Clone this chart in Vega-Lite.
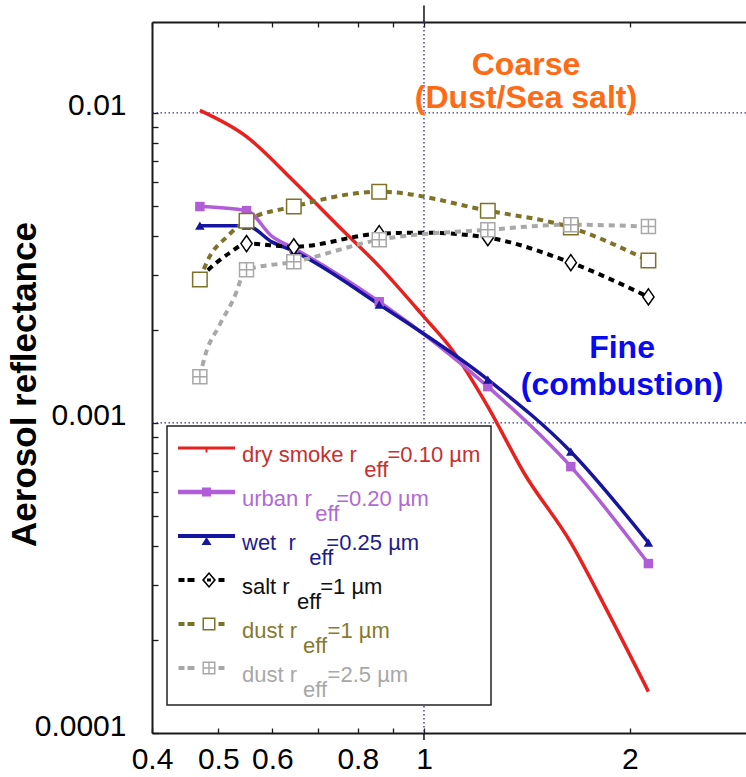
{
  "$schema": "https://vega.github.io/schema/vega-lite/v6.json",
  "width": 594,
  "height": 711,
  "autosize": {"type": "none"},
  "padding": {"left": 152, "top": 22, "right": 0, "bottom": 44},
  "background": "white",
  "config": {
    "view": {"stroke": null},
    "axis": {"labelFont": "Liberation Sans", "labelFontSize": 30, "labelColor": "#000", "domainColor": "#1a1a1a", "domainWidth": 2, "tickColor": "#1a1a1a", "tickWidth": 1.3, "grid": false, "titleColor": "#000", "labelFlush": false, "labelOverlap": false, "labelBound": false}
  },
  "datasets": {
    "curves": [
      {"series": "dry smoke", "x": 0.47, "y": 0.01019},
      {"series": "dry smoke", "x": 0.55, "y": 0.00839},
      {"series": "dry smoke", "x": 0.645, "y": 0.00602},
      {"series": "dry smoke", "x": 0.75, "y": 0.00431},
      {"series": "dry smoke", "x": 0.86, "y": 0.0032},
      {"series": "dry smoke", "x": 1.0, "y": 0.0022},
      {"series": "dry smoke", "x": 1.1, "y": 0.00172},
      {"series": "dry smoke", "x": 1.24, "y": 0.00113},
      {"series": "dry smoke", "x": 1.4, "y": 0.000691},
      {"series": "dry smoke", "x": 1.64, "y": 0.000411},
      {"series": "dry smoke", "x": 1.85, "y": 0.00025},
      {"series": "dry smoke", "x": 2.13, "y": 0.000136},
      {"series": "urban", "x": 0.47, "y": 0.00499},
      {"series": "urban", "x": 0.55, "y": 0.00484},
      {"series": "urban", "x": 0.6, "y": 0.00399},
      {"series": "urban", "x": 0.645, "y": 0.00366},
      {"series": "urban", "x": 0.86, "y": 0.00246},
      {"series": "urban", "x": 1.24, "y": 0.00131},
      {"series": "urban", "x": 1.64, "y": 0.000723},
      {"series": "urban", "x": 2.13, "y": 0.000352},
      {"series": "wet", "x": 0.47, "y": 0.00433},
      {"series": "wet", "x": 0.55, "y": 0.00433},
      {"series": "wet", "x": 0.6, "y": 0.00383},
      {"series": "wet", "x": 0.645, "y": 0.00358},
      {"series": "wet", "x": 0.86, "y": 0.00241},
      {"series": "wet", "x": 1.24, "y": 0.00138},
      {"series": "wet", "x": 1.64, "y": 0.000808},
      {"series": "wet", "x": 2.13, "y": 0.000411},
      {"series": "salt", "x": 0.47, "y": 0.00294},
      {"series": "salt", "x": 0.497, "y": 0.00329},
      {"series": "salt", "x": 0.52, "y": 0.00354},
      {"series": "salt", "x": 0.55, "y": 0.00379},
      {"series": "salt", "x": 0.645, "y": 0.0037},
      {"series": "salt", "x": 0.86, "y": 0.00408},
      {"series": "salt", "x": 1.0, "y": 0.00411},
      {"series": "salt", "x": 1.24, "y": 0.00396},
      {"series": "salt", "x": 1.64, "y": 0.00329},
      {"series": "salt", "x": 2.13, "y": 0.00255},
      {"series": "dust 1", "x": 0.47, "y": 0.0029},
      {"series": "dust 1", "x": 0.483, "y": 0.00336},
      {"series": "dust 1", "x": 0.515, "y": 0.00399},
      {"series": "dust 1", "x": 0.55, "y": 0.00449},
      {"series": "dust 1", "x": 0.645, "y": 0.00499},
      {"series": "dust 1", "x": 0.86, "y": 0.00557},
      {"series": "dust 1", "x": 1.24, "y": 0.00484},
      {"series": "dust 1", "x": 1.64, "y": 0.00427},
      {"series": "dust 1", "x": 2.13, "y": 0.00334},
      {"series": "dust 2.5", "x": 0.47, "y": 0.00141},
      {"series": "dust 2.5", "x": 0.478, "y": 0.00164},
      {"series": "dust 2.5", "x": 0.501, "y": 0.00205},
      {"series": "dust 2.5", "x": 0.526, "y": 0.0025},
      {"series": "dust 2.5", "x": 0.55, "y": 0.00312},
      {"series": "dust 2.5", "x": 0.645, "y": 0.00331},
      {"series": "dust 2.5", "x": 0.86, "y": 0.0039},
      {"series": "dust 2.5", "x": 1.24, "y": 0.0042},
      {"series": "dust 2.5", "x": 1.64, "y": 0.00436},
      {"series": "dust 2.5", "x": 2.13, "y": 0.0043}
    ],
    "grid_h": [{"y": 0.01}, {"y": 0.001}],
    "grid_v": [{"x": 1}],
    "ext": [{"x": 1, "y": 0.01965, "y2": 0.0222}, {"x": 1, "y": 0.000095, "y2": 0.0001}],
    "ann_coarse": [{"x": 1.41, "y": 0.01329, "text": "Coarse"}, {"x": 1.41, "y": 0.0104, "text": "(Dust/Sea salt)"}],
    "ann_fine": [{"x": 1.949, "y": 0.001625, "text": "Fine"}, {"x": 1.949, "y": 0.001234, "text": "(combustion)"}]
  },
  "layer": [
    {
      "data": {"name": "grid_h"},
      "mark": {"type": "rule", "color": "#303090", "strokeWidth": 1.3, "strokeDash": [1.5, 2.5]},
      "encoding": {
        "y": {"field": "y", "type": "quantitative",
          "scale": {"type": "log", "domain": [0.0001, 0.01965], "nice": false},
          "axis": {
            "values": [0.0001, 0.0002, 0.0003, 0.0004, 0.0005, 0.0006, 0.0007, 0.0008, 0.0009, 0.001, 0.002, 0.003, 0.004, 0.005, 0.006, 0.007, 0.008, 0.009, 0.01],
            "labelExpr": "datum.value == 0.01 ? '0.01' : datum.value == 0.001 ? '0.001' : datum.value == 0.0001 ? '0.0001' : ''",
            "tickSize": -6, "labelPadding": 32, "labelOffset": -7,
            "title": "Aerosol reflectance", "titleFont": "Liberation Sans", "titleFontSize": 35, "titleFontWeight": "bold",
            "titleX": -117, "titleY": 362, "titleAngle": -90, "titleAlign": "center", "titleBaseline": "alphabetic"
          }
        }
      }
    },
    {
      "data": {"name": "grid_v"},
      "mark": {"type": "rule", "color": "#303090", "strokeWidth": 1.3, "strokeDash": [1.5, 2.5]},
      "encoding": {
        "x": {"field": "x", "type": "quantitative",
          "scale": {"type": "log", "domain": [0.4, 2.959], "nice": false},
          "axis": {"orient": "bottom", "values": [0.4, 0.5, 0.6, 0.7, 0.8, 0.9, 1, 2],
            "labelExpr": "datum.value == 0.7 || datum.value == 0.9 ? '' : format(datum.value, '')",
            "tickSize": -5, "labelPadding": 16, "title": null}
        }
      }
    },
    {
      "data": {"name": "ext"},
      "mark": {"type": "rule", "color": "#111", "strokeWidth": 1.5},
      "encoding": {
        "x": {"field": "x", "type": "quantitative",
          "scale": {"type": "log", "domain": [0.4, 2.959], "nice": false},
          "axis": {"orient": "top", "values": [0.4, 0.5, 0.6, 0.7, 0.8, 0.9, 1, 2], "labels": false, "tickSize": -5, "title": null}
        },
        "y": {"field": "y", "type": "quantitative", "scale": {"type": "log", "domain": [0.0001, 0.01965], "nice": false}, "axis": null},
        "y2": {"field": "y2"}
      }
    },
    {
      "data": {"name": "curves"},
      "transform": [{"filter": "datum.x == 0.47 && datum.series == 'dry smoke'"}],
      "mark": {"type": "point", "size": 0, "opacity": 0},
      "encoding": {
        "x": {"field": "x", "type": "quantitative", "scale": {"type": "log", "domain": [0.4, 2.959], "nice": false}, "axis": null},
        "y": {"field": "y", "type": "quantitative", "scale": {"type": "log", "domain": [0.0001, 0.01965], "nice": false}, "axis": null},
        "fill": {"field": "series", "type": "nominal",
          "legend": {
            "orient": "none", "legendX": 15, "legendY": 404, "title": null,
            "padding": 11, "strokeColor": "#222", "fillColor": "white",
            "symbolType": "M0,0H302V257H0Z", "symbolSize": 4, "symbolFillColor": "transparent", "symbolStrokeColor": "transparent", "symbolStrokeWidth": 0, "symbolOpacity": 0,
            "labelExpr": "''", "labelFontSize": 1,
            "encode": {
              "symbols": {"update": {"x": {"value": 0}, "y": {"value": 0}, "opacity": {"value": 0}}},
              "legend": {"update": {"strokeWidth": {"value": 1.5}}}
            }
          }
        }
      }
    },
    {
      "data": {"name": "curves"},
      "transform": [{"filter": "datum.x == 0.47"}],
      "mark": {"type": "point", "filled": true, "opacity": 0, "size": 4},
      "encoding": {
        "x": {"field": "x", "type": "quantitative", "scale": {"type": "log", "domain": [0.4, 2.959], "nice": false}, "axis": null},
        "y": {"field": "y", "type": "quantitative", "scale": {"type": "log", "domain": [0.0001, 0.01965], "nice": false}, "axis": null},
        "color": {"field": "series", "type": "nominal",
          "scale": {"domain": ["dry smoke", "urban", "wet", "salt", "dust 1", "dust 2.5"], "range": ["#e8201e", "#b05ed8", "#1515a0", "#000000", "#7d7228", "#a8a8a8"]},
          "legend": {
            "orient": "none", "legendX": 15, "legendY": 404, "title": null,
            "padding": 11,
            "symbolSize": 4, "symbolStrokeWidth": 0, "symbolOpacity": 1, "rowPadding": 0,
            "labelFont": "Liberation Sans", "labelFontSize": 22, "labelLimit": 0, "labelOffset": 42,
            "labelExpr": "datum.label == 'dry smoke' ? ['dry smoke r' + pad('',5,'\u00a0') + '=0.10 µm', '\u200b' + pad('',20,'\u00a0') + 'eff'] : datum.label == 'urban' ? ['urban r' + pad('',4,'\u00a0') + '=0.20 µm', '\u200b' + pad('',12,'\u00a0') + 'eff'] : datum.label == 'wet' ? ['wet' + pad('',2,'\u00a0') + 'r' + pad('',5,'\u00a0') + '=0.25 µm', '\u200b' + pad('',11,'\u00a0') + 'eff'] : datum.label == 'salt' ? ['salt r' + pad('',5,'\u00a0') + '=1 µm', '\u200b' + pad('',9,'\u00a0') + 'eff'] : datum.label == 'dust 1' ? ['dust r' + pad('',5,'\u00a0') + '=1 µm', '\u200b' + pad('',10,'\u00a0') + 'eff'] : ['dust r' + pad('',5,'\u00a0') + '=2.5 µm', '\u200b' + pad('',10,'\u00a0') + 'eff']",
            "encode": {
              "symbols": {"update": {"x": {"value": 28.5}}},
              "labels": {"update": {
                "fill": {"signal": "datum.value == 'dry smoke' ? '#c83030' : datum.value == 'urban' ? '#b06ad6' : datum.value == 'wet' ? '#1c1c8e' : datum.value == 'salt' ? '#111111' : datum.value == 'dust 1' ? '#857a2e' : '#a8a8a8'"},
                "dy": {"value": 7},
                "lineHeight": {"value": 15},
                "x": {"value": 64}
              }}
            }
          }
        },
        "shape": {"field": "series", "type": "nominal",
          "scale": {"domain": ["dry smoke", "urban", "wet", "salt", "dust 1", "dust 2.5"],
            "range": [
              "M-28.5,-1.5H28.5V1.5H-28.5Z M-1,1.5H1V4.5H-1Z",
              "M-28.5,-2.2H28.5V2.2H-28.5Z M-4.5,-4.5H4.5V4.5H-4.5Z",
              "M-28.5,-2H28.5V2H-28.5Z M0,1L5,9H-5Z",
              "M-28,-2H-22V2H-28Z M-19,-2H-12V2H-19Z M2.5,-8L9.5,0L2.5,8L-4.5,0Z M2.5,-5.8L-2.3,0L2.5,5.8L7.3,0Z M0.5,-1.5H4.5V1.5H0.5Z M12,-2H18V2H12Z",
              "M-28,-2H-22V2H-28Z M-19,-2H-12V2H-19Z M-4,-6.5H9V6.5H-4Z M-2.5,-5V5H7.5V-5Z M12,-2H18V2H12Z",
              "M-28,-2H-22V2H-28Z M-19,-2H-12V2H-19Z M-4,-6.5H9V6.5H-4Z M-2.5,-5V5H7.5V-5Z M1.8,-5H3.2V5H1.8Z M-2.5,-0.7H7.5V0.7H-2.5Z M12,-2H18V2H12Z"
            ]}
        }
      }
    },
    {
      "data": {"name": "curves"},
      "transform": [{"filter": {"field": "series", "oneOf": ["dry smoke", "urban", "wet"]}}],
      "mark": {"type": "line", "strokeWidth": 3.5, "interpolate": "monotone"},
      "encoding": {
        "x": {"field": "x", "type": "quantitative", "scale": {"type": "log", "domain": [0.4, 2.959], "nice": false}, "axis": null},
        "y": {"field": "y", "type": "quantitative", "scale": {"type": "log", "domain": [0.0001, 0.01965], "nice": false}, "axis": null},
        "color": {"field": "series", "type": "nominal", "legend": null}
      }
    },
    {
      "data": {"name": "curves"},
      "transform": [{"filter": {"field": "series", "oneOf": ["salt", "dust 1", "dust 2.5"]}}],
      "mark": {"type": "line", "strokeWidth": 4, "strokeDash": [6, 5], "interpolate": "monotone"},
      "encoding": {
        "x": {"field": "x", "type": "quantitative", "scale": {"type": "log", "domain": [0.4, 2.959], "nice": false}, "axis": null},
        "y": {"field": "y", "type": "quantitative", "scale": {"type": "log", "domain": [0.0001, 0.01965], "nice": false}, "axis": null},
        "color": {"field": "series", "type": "nominal", "legend": null}
      }
    },
    {
      "data": {"name": "curves"},
      "transform": [
        {"filter": {"field": "series", "equal": "urban"}},
        {"filter": {"field": "x", "oneOf": [0.47, 0.55, 0.645, 0.86, 1.24, 1.64, 2.13]}}
      ],
      "mark": {"type": "point", "shape": "square", "filled": true, "size": 90, "opacity": 1},
      "encoding": {
        "x": {"field": "x", "type": "quantitative", "scale": {"type": "log", "domain": [0.4, 2.959], "nice": false}, "axis": null},
        "y": {"field": "y", "type": "quantitative", "scale": {"type": "log", "domain": [0.0001, 0.01965], "nice": false}, "axis": null},
        "color": {"field": "series", "type": "nominal", "legend": null}
      }
    },
    {
      "data": {"name": "curves"},
      "transform": [
        {"filter": {"field": "series", "equal": "wet"}},
        {"filter": {"field": "x", "oneOf": [0.47, 0.55, 0.645, 0.86, 1.24, 1.64, 2.13]}}
      ],
      "mark": {"type": "point", "shape": "triangle-up", "filled": true, "size": 90, "opacity": 1},
      "encoding": {
        "x": {"field": "x", "type": "quantitative", "scale": {"type": "log", "domain": [0.4, 2.959], "nice": false}, "axis": null},
        "y": {"field": "y", "type": "quantitative", "scale": {"type": "log", "domain": [0.0001, 0.01965], "nice": false}, "axis": null},
        "color": {"field": "series", "type": "nominal", "legend": null}
      }
    },
    {
      "data": {"name": "curves"},
      "transform": [
        {"filter": {"field": "series", "equal": "salt"}},
        {"filter": {"field": "x", "oneOf": [0.55, 0.645, 0.86, 1.24, 1.64, 2.13]}}
      ],
      "mark": {"type": "point", "shape": "M0,-1.15L0.8,0L0,1.15L-0.8,0Z", "filled": false, "fill": "white", "size": 196, "strokeWidth": 1.5, "opacity": 1},
      "encoding": {
        "x": {"field": "x", "type": "quantitative", "scale": {"type": "log", "domain": [0.4, 2.959], "nice": false}, "axis": null},
        "y": {"field": "y", "type": "quantitative", "scale": {"type": "log", "domain": [0.0001, 0.01965], "nice": false}, "axis": null},
        "color": {"field": "series", "type": "nominal", "legend": null}
      }
    },
    {
      "data": {"name": "curves"},
      "transform": [
        {"filter": {"field": "series", "equal": "dust 1"}},
        {"filter": {"field": "x", "oneOf": [0.47, 0.55, 0.645, 0.86, 1.24, 1.64, 2.13]}}
      ],
      "mark": {"type": "point", "shape": "square", "filled": false, "fill": "white", "size": 210, "strokeWidth": 1.5, "opacity": 1},
      "encoding": {
        "x": {"field": "x", "type": "quantitative", "scale": {"type": "log", "domain": [0.4, 2.959], "nice": false}, "axis": null},
        "y": {"field": "y", "type": "quantitative", "scale": {"type": "log", "domain": [0.0001, 0.01965], "nice": false}, "axis": null},
        "color": {"field": "series", "type": "nominal", "legend": null}
      }
    },
    {
      "data": {"name": "curves"},
      "transform": [
        {"filter": {"field": "series", "equal": "dust 2.5"}},
        {"filter": {"field": "x", "oneOf": [0.47, 0.55, 0.645, 0.86, 1.24, 1.64, 2.13]}}
      ],
      "mark": {"type": "point", "shape": "M-1,-1H1V1H-1Z M0,-1V1 M-1,0H1", "filled": false, "fill": "white", "size": 196, "strokeWidth": 1.5, "opacity": 1},
      "encoding": {
        "x": {"field": "x", "type": "quantitative", "scale": {"type": "log", "domain": [0.4, 2.959], "nice": false}, "axis": null},
        "y": {"field": "y", "type": "quantitative", "scale": {"type": "log", "domain": [0.0001, 0.01965], "nice": false}, "axis": null},
        "color": {"field": "series", "type": "nominal", "legend": null}
      }
    },
    {
      "data": {"name": "ann_coarse"},
      "mark": {"type": "text", "font": "Liberation Sans", "fontSize": 32, "fontWeight": "bold", "color": "#ff6a13", "align": "center", "baseline": "alphabetic"},
      "encoding": {
        "x": {"field": "x", "type": "quantitative", "scale": {"type": "log", "domain": [0.4, 2.959], "nice": false}, "axis": null},
        "y": {"field": "y", "type": "quantitative", "scale": {"type": "log", "domain": [0.0001, 0.01965], "nice": false}, "axis": null},
        "text": {"field": "text"}
      }
    },
    {
      "data": {"name": "ann_fine"},
      "mark": {"type": "text", "font": "Liberation Sans", "fontSize": 32, "fontWeight": "bold", "color": "#0a0af0", "align": "center", "baseline": "alphabetic"},
      "encoding": {
        "x": {"field": "x", "type": "quantitative", "scale": {"type": "log", "domain": [0.4, 2.959], "nice": false}, "axis": null},
        "y": {"field": "y", "type": "quantitative", "scale": {"type": "log", "domain": [0.0001, 0.01965], "nice": false}, "axis": null},
        "text": {"field": "text"}
      }
    }
  ],
  "resolve": {"axis": {"x": "independent", "y": "independent"}}
}
